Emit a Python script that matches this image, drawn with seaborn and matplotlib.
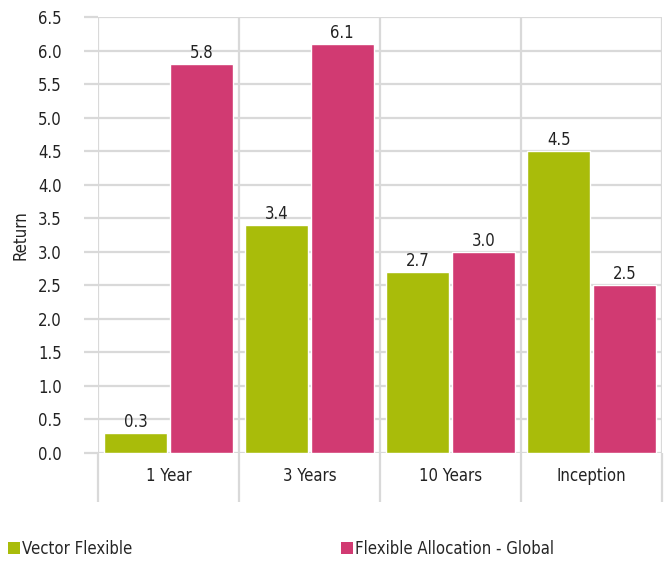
import pandas as pd
import seaborn as sns
import matplotlib.pyplot as plt
from matplotlib.patches import Patch

# data
periods = ['1 Year', '3 Years', '10 Years', 'Inception']
vector_flexible = [0.3, 3.4, 2.7, 4.5]
flex_alloc_global = [5.8, 6.1, 3.0, 2.5]
series_names = ['Vector Flexible', 'Flexible Allocation - Global']
colors = ['#a9bc0a', '#d13a72']

df = pd.DataFrame({
    'Period': periods * 2,
    'Return': vector_flexible + flex_alloc_global,
    'Series': [series_names[0]] * 4 + [series_names[1]] * 4,
})

sns.set_style('white')
plt.rcParams['font.family'] = ['DejaVu Sans']
plt.rcParams['font.stretch'] = 'condensed'

fig = plt.figure(figsize=(6.64, 5.62), dpi=100)
ax = fig.add_axes([0.1476, 0.194, 0.8494, 0.7758])

sns.barplot(data=df, x='Period', y='Return', hue='Series', palette=colors,
            saturation=1, width=0.93, gap=0.04, legend=False, ax=ax)

for cont in ax.containers:
    ax.bar_label(cont, fmt='%.1f', padding=1.5, fontsize=12, color='#222222')

grid_c = '#d9d9d9'
ax.set_ylim(0, 6.5)
ax.set_xlim(-0.5, 3.5)
ax.set_yticks([i * 0.5 for i in range(14)])
ax.set_yticklabels([f'{i * 0.5:.1f}' for i in range(14)])
ax.yaxis.grid(True, color=grid_c, linewidth=1.6)
ax.set_axisbelow(True)
ax.tick_params(axis='y', left=True, length=10, width=1.6, color=grid_c, labelsize=12,
               labelcolor='#222222', pad=16)
ax.tick_params(axis='x', length=0, labelsize=12, labelcolor='#222222', pad=10)

# category separators running below the axis
ax.set_xticks([-0.5, 0.5, 1.5, 2.5, 3.5], minor=True)
ax.tick_params(axis='x', which='minor', bottom=True, length=35, width=1.6, color=grid_c)
for xv in [-0.5, 0.5, 1.5, 2.5, 3.5]:
    ax.axvline(xv, color=grid_c, linewidth=1.6, zorder=0)

for s in ax.spines.values():
    s.set_visible(False)

ax.set_xlabel('')
ax.set_ylabel('Return', fontsize=12, color='#222222', labelpad=6)

handles = [Patch(facecolor=c, edgecolor='none') for c in colors]
fig.legend(handles, series_names, loc='lower left', bbox_to_anchor=(0.006, 0.0),
           ncol=2, frameon=False, fontsize=12, handlelength=0.7, handleheight=0.7,
           handletextpad=0.15, columnspacing=12.5, borderaxespad=0.0,
           borderpad=0.25)

fig.savefig('out.png', dpi=100)
